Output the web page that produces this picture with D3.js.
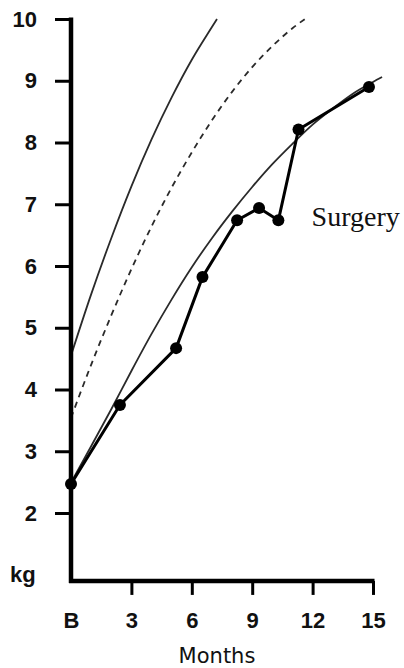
<!DOCTYPE html>
<html>
<head>
<meta charset="utf-8">
<script src="https://cdn.jsdelivr.net/npm/d3@7/dist/d3.min.js"></script>
<style>
  html, body { margin: 0; padding: 0; background: #fff; }
  svg { display: block; }
</style>
</head>
<body>
<svg id="chart" width="404" height="668"></svg>
<script>
// ---- data ----
const xTicks = [0, 3, 6, 9, 12, 15];
const xTickLabels = ["B", "3", "6", "9", "12", "15"];
const yTicks = [2, 3, 4, 5, 6, 7, 8, 9, 10];

// patient weights (months, kg)
const patientMonths = [0, 2.43, 5.22, 6.53, 8.25, 9.34, 10.3, 11.3, 14.8];
const patientKg     = [2.47, 3.75, 4.67, 5.82, 6.74, 6.94, 6.74, 8.21, 8.9];

// upper reference curve (solid)
const upperMonths = [0, 1, 2, 3, 4, 5, 6, 7, 7.25];
const upperKg     = [4.55, 5.54, 6.45, 7.29, 8.05, 8.73, 9.34, 9.87, 10.0];

// middle reference curve (dashed)
const midMonths = [0, 1, 2, 3, 4, 5, 6, 7, 8, 9, 10, 11, 11.62];
const midKg     = [3.54, 4.4, 5.2, 5.95, 6.64, 7.27, 7.84, 8.36, 8.82, 9.22, 9.56, 9.85, 10.0];

// lower reference curve (solid)
const lowerMonths = [0, 1, 2, 3, 4, 5, 6, 7, 8, 9, 10, 11, 12, 13, 14, 15, 15.45];
const lowerKg     = [2.49, 3.08, 3.68, 4.3, 4.9, 5.46, 5.98, 6.45, 6.88, 7.28, 7.65, 7.98, 8.29, 8.55, 8.79, 8.98, 9.06];

const annotation = "Surgery";
const annotationAt = [11.95, 6.65];

// ---- drawing ----
const svg = d3.select("#chart");
const x = d3.scaleLinear().domain([0, 15]).range([71, 373]);
const y = d3.scaleLinear().domain([2, 10]).range([513, 19]);
const baseY = y(0.9);

const sans = "'Liberation Sans', Arial, Helvetica, sans-serif";

// reference curves
const line = d3.line().x(d => x(d[0])).y(d => y(d[1])).curve(d3.curveMonotoneX);
const zip = (a, b) => a.map((v, i) => [v, b[i]]);

svg.append("path").attr("d", line(zip(upperMonths, upperKg)))
  .attr("fill", "none").attr("stroke", "#2a2a2a").attr("stroke-width", 1.8);
svg.append("path").attr("d", line(zip(midMonths, midKg)))
  .attr("fill", "none").attr("stroke", "#2a2a2a").attr("stroke-width", 1.8)
  .attr("stroke-dasharray", "6,5");
svg.append("path").attr("d", line(zip(lowerMonths, lowerKg)))
  .attr("fill", "none").attr("stroke", "#2a2a2a").attr("stroke-width", 1.8);

// patient line + dots
const pts = zip(patientMonths, patientKg);
svg.append("path").attr("d", d3.line().x(d => x(d[0])).y(d => y(d[1]))(pts))
  .attr("fill", "none").attr("stroke", "#000").attr("stroke-width", 3)
  .attr("stroke-linejoin", "round");
svg.selectAll("circle.pt").data(pts).join("circle").attr("class", "pt")
  .attr("cx", d => x(d[0])).attr("cy", d => y(d[1])).attr("r", 6).attr("fill", "#000");

// y axis
const yAxis = d3.axisLeft(y).tickValues(yTicks).tickSize(16).tickPadding(18).tickFormat(d3.format("d"));
const gy = svg.append("g").attr("transform", `translate(${x(0)},0)`).call(yAxis);
gy.select(".domain").remove();
gy.selectAll(".tick line").attr("stroke", "#000").attr("stroke-width", 3);
gy.selectAll(".tick text").attr("font-family", sans).attr("font-weight", "bold")
  .attr("font-size", 22).attr("fill", "#111");

// x axis
const xAxis = d3.axisBottom(x).tickValues(xTicks).tickSize(14).tickPadding(17)
  .tickFormat((d, i) => xTickLabels[i]);
const gx = svg.append("g").attr("transform", `translate(0,${baseY})`).call(xAxis);
gx.select(".domain").remove();
gx.selectAll(".tick line").attr("stroke", "#000").attr("stroke-width", 3)
  .attr("display", d => d === 0 ? "none" : null);
gx.selectAll(".tick text").attr("font-family", sans).attr("font-weight", "bold")
  .attr("font-size", 22).attr("fill", "#111");

// thick axis lines
svg.append("line").attr("x1", x(0)).attr("x2", x(0)).attr("y1", y(10) - 1.5).attr("y2", baseY + 2)
  .attr("stroke", "#000").attr("stroke-width", 4.5);
svg.append("line").attr("x1", x(0) - 2).attr("x2", x(15) + 1.5).attr("y1", baseY).attr("y2", baseY)
  .attr("stroke", "#000").attr("stroke-width", 4.5);

// labels
svg.append("text").attr("x", 10).attr("y", baseY + 1).text("kg")
  .attr("font-family", sans).attr("font-weight", "bold").attr("font-size", 22).attr("fill", "#111");
svg.append("text").attr("x", (x(0) + x(15)) / 2 - 5).attr("y", 663).attr("text-anchor", "middle")
  .text("Months").attr("font-family", "'DejaVu Sans', sans-serif").attr("font-size", 21).attr("fill", "#111");
svg.append("text").attr("x", x(annotationAt[0])).attr("y", y(annotationAt[1])).text(annotation)
  .attr("font-family", "'Liberation Serif', 'Times New Roman', serif").attr("font-size", 28).attr("fill", "#111");
</script>
</body>
</html>
